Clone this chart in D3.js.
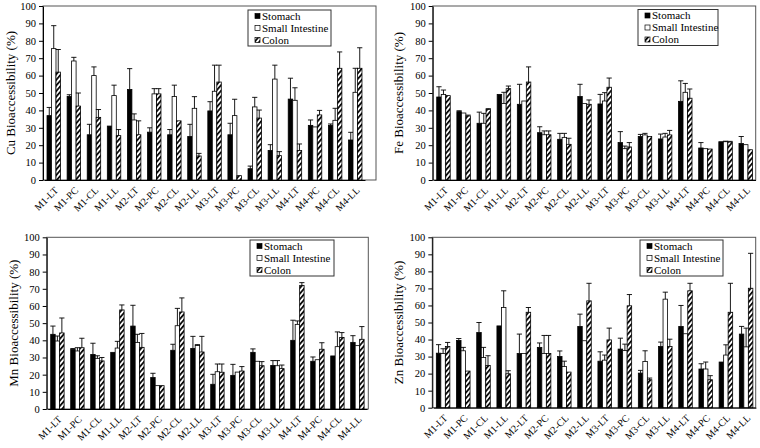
<!DOCTYPE html>
<html><head><meta charset="utf-8">
<script src="https://cdn.jsdelivr.net/npm/d3@7"></script>
<style>
body{margin:0;background:#fff}
svg{display:block}
</style>
</head><body>
<svg id="chart" width="760" height="448"></svg>
<script>
const categories = ["M1-LT","M1-PC","M1-CL","M1-LL","M2-LT","M2-PC","M2-CL","M2-LL","M3-LT","M3-PC","M3-CL","M3-LL","M4-LT","M4-PC","M4-CL","M4-LL"];
const seriesNames = ["Stomach","Small Intestine","Colon"];
const yTicks = [0,10,20,30,40,50,60,70,80,90,100];

// Cu
const cuStomach    = [37, 48, 26, 31, 52, 27.5, 26, 25, 39.7, 26, 6.5, 17, 46.5, 31.4, 31.4, 23];
const cuStomachSD  = [4.7, 1, 6, 0, 12, 2.5, 3, 7, 5.3, 6.6, 1.5, 3.3, 12, 3.1, 0.8, 4.4];
const cuSI         = [75.5, 68.4, 60, 48.5, 34.5, 49.5, 48, 41.2, 51, 37, 42, 58, 45.8, 30.5, 34.3, 50.4];
const cuSISD       = [13.2, 2.1, 5, 6, 3.5, 3, 6.5, 6.7, 15, 9.4, 5.5, 8, 7.2, 0, 6.9, 13.8];
const cuColon      = [62, 42.5, 36, 25.5, 26, 49.5, 34, 13.8, 56.3, 2.5, 35.6, 14, 17, 37.4, 64.2, 64.2];
const cuColonSD    = [13, 7.5, 4.5, 3.5, 8, 3, 0, 1.5, 9.7, 0, 4.6, 2.3, 3.7, 2.6, 9.4, 11.8];
// Fe
const feStomach    = [47.7, 39.3, 32.6, 49.2, 43.5, 27.2, 23.4, 48, 43.7, 21.5, 25, 23.6, 45.2, 18.4, 22, 21];
const feStomachSD  = [5.9, 0.5, 6.4, 0, 11.5, 3.4, 3.4, 7, 5.5, 6.3, 1.2, 2.8, 11.8, 3.1, 0, 4];
const feSI         = [49.2, 38.5, 32.6, 44, 45.4, 26, 24.5, 43.9, 45.4, 18, 25.9, 24.7, 50.4, 18, 22, 20.3];
const feSISD       = [2.5, 0, 5.7, 6.4, 0, 2.2, 2.3, 0, 4.8, 1.5, 0.9, 2.1, 5.1, 0, 0.3, 0];
const feColon      = [48.5, 36.8, 40.6, 52.5, 56.3, 26, 20.5, 43.5, 53.3, 19, 25, 25.9, 47, 17.8, 21.8, 17.4];
const feColonSD    = [0, 0.5, 0.4, 1.5, 8.7, 2.2, 3.5, 2.5, 5.3, 2.5, 0, 2.6, 5.3, 0, 0.4, 0];
// Mn
const mnStomach    = [43.5, 34.8, 31.8, 33, 48.3, 18.3, 34.2, 35.3, 14.4, 19.6, 33, 25.4, 40, 27.8, 30.9, 38.8];
const mnStomachSD  = [4.8, 0.4, 6.5, 0, 12.1, 2.5, 3.5, 7, 5.8, 6.4, 2, 2.8, 11.7, 2.5, 0, 3.9];
const mnSI         = [39.6, 33.8, 29.5, 35.5, 38.8, 13.6, 48.5, 37, 21.7, 21.5, 27.8, 25.2, 49.3, 28.7, 36.3, 36.9];
const mnSISD       = [2.9, 1.9, 1.5, 3.9, 4.7, 0, 10.1, 0.5, 4.5, 0, 0, 3, 2, 0, 8.6, 0];
const mnColon      = [44.3, 35.7, 28, 57.7, 35.9, 13.6, 56.5, 33.2, 21.4, 22.1, 25.2, 23.5, 72, 34.8, 41.7, 40.6];
const mnColonSD    = [8.7, 5.5, 2, 2.9, 8.1, 0, 8.2, 9.1, 4.8, 2.6, 2.4, 2.1, 1.6, 3.8, 2.8, 7.4];
// Zn
const znStomach    = [32, 39.5, 44.1, 48, 31.8, 35.4, 30, 47.7, 27.3, 34.4, 20.3, 35.9, 47.7, 22.7, 26.8, 43.2];
const znStomachSD  = [5, 1.1, 5.9, 0, 11.4, 2.6, 3.3, 7.2, 5.5, 6.4, 1.6, 2.6, 12.3, 3.1, 0, 4.5];
const znSI         = [31.8, 33.4, 29.5, 58.8, 31.8, 31.8, 24.2, 39.3, 27.9, 33.5, 27.1, 63.7, 43.4, 22.7, 30.9, 35.7];
const znSISD       = [2.8, 2, 5.9, 9.8, 0, 10.6, 3.1, 0, 3, 3.8, 6.3, 4.1, 0, 4.1, 6, 11];
const znColon      = [35.9, 21.5, 24.8, 19.9, 56, 31.8, 20.9, 62.7, 39.8, 59.8, 16.4, 35.9, 68.6, 16.4, 56, 70.1];
const znColonSD    = [2.4, 0, 5.7, 1.8, 2.8, 10.6, 0, 10.3, 6.9, 6.6, 1, 4.3, 4.4, 2.4, 17, 20.5];

const panelTitles = ["Cu Bioaccessibility (%)","Fe Bioaccessibility (%)","Mn Bioaccessibility (%)","Zn Bioaccessibility (%)"];
const panelData = [
  [[cuStomach,cuStomachSD],[cuSI,cuSISD],[cuColon,cuColonSD]],
  [[feStomach,feStomachSD],[feSI,feSISD],[feColon,feColonSD]],
  [[mnStomach,mnStomachSD],[mnSI,mnSISD],[mnColon,mnColonSD]],
  [[znStomach,znStomachSD],[znSI,znSISD],[znColon,znColonSD]]
];

// layout (positions only)
const layout = [
  {ax:43,   right:376,   top:6,     bottom:180,   step:20.1, titleX:10,  lx:248, ly:10, lw:83},
  {ax:432.7,right:755.7, top:6,     bottom:180,   step:20.15,titleX:398, lx:638, ly:9.5, lw:80},
  {ax:46.7, right:368.3, top:237.3, bottom:409,   step:20.0, titleX:13,  lx:250, ly:240, lw:84},
  {ax:432.3,right:755.7, top:237.3, bottom:407.7, step:20.2, titleX:398, lx:640, ly:240, lw:83}
];

const FONT = "'Liberation Serif', 'Times New Roman', 'DejaVu Serif', serif";
const svg = d3.select("#chart");
const defs = svg.append("defs");
const pat = defs.append("pattern").attr("id","hatch").attr("patternUnits","userSpaceOnUse")
  .attr("width",3.6).attr("height",3.6).attr("patternTransform","rotate(40)");
pat.append("rect").attr("width",3.6).attr("height",3.6).attr("fill","#fff");
pat.append("rect").attr("x",0).attr("y",0).attr("width",1.7).attr("height",3.6).attr("fill","#000");

const fills = ["#000","#fff","url(#hatch)"];

panelData.forEach((series,pi)=>{
  const L = layout[pi];
  const g = svg.append("g");
  const y = d3.scaleLinear().domain([0,100]).range([L.bottom,L.top]);
  const pIn = 0.33, pOut = 0.15;
  const x0 = L.ax + 1;
  const x = d3.scaleBand().domain(categories)
    .range([x0, x0 + L.step*(categories.length - pIn + 2*pOut)])
    .paddingInner(pIn).paddingOuter(pOut);
  const xs = d3.scaleBand().domain([0,1,2]).range([0,x.bandwidth()]);

  // frame
  g.append("rect").attr("x",L.ax).attr("y",L.top).attr("width",L.right-L.ax).attr("height",L.bottom-L.top)
    .attr("fill","none").attr("stroke","#555").attr("stroke-width",1);

  // bars
  series.forEach((s,si)=>{
    const vals = s[0], sds = s[1];
    const data = categories.map((c,i)=>({c, v:vals[i], e:sds[i]}));
    g.selectAll(null).data(data).enter().append("rect")
      .attr("x",d=>x(d.c)+xs(si)).attr("y",d=>y(d.v))
      .attr("width",xs.bandwidth()).attr("height",d=>y(0)-y(d.v))
      .attr("fill",fills[si]).attr("stroke","#000").attr("stroke-width",0.8);
    const eg = g.selectAll(null).data(data.filter(d=>d.e>0)).enter().append("g");
    eg.append("line")
      .attr("x1",d=>x(d.c)+xs(si)+xs.bandwidth()/2).attr("x2",d=>x(d.c)+xs(si)+xs.bandwidth()/2)
      .attr("y1",d=>y(d.v)).attr("y2",d=>y(d.v+d.e)).attr("stroke","#000").attr("stroke-width",0.9);
    eg.append("line")
      .attr("x1",d=>x(d.c)+xs(si)+xs.bandwidth()/2-2.6).attr("x2",d=>x(d.c)+xs(si)+xs.bandwidth()/2+2.6)
      .attr("y1",d=>y(d.v+d.e)).attr("y2",d=>y(d.v+d.e)).attr("stroke","#000").attr("stroke-width",0.9);
  });

  // y axis
  const ya = g.append("g").attr("transform",`translate(${L.ax},0)`)
    .call(d3.axisLeft(y).tickValues(yTicks).tickSize(4).tickPadding(3).tickSizeOuter(0));
  ya.attr("font-family",null).attr("font-size",null);
  ya.select(".domain").attr("stroke","#000");
  ya.selectAll(".tick line").attr("stroke","#000");
  ya.selectAll("text").style("font-size","10.5px").style("font-family",FONT).attr("fill","#000");

  // x axis
  const xa = g.append("g").attr("transform",`translate(0,${L.bottom})`)
    .call(d3.axisBottom(x).tickSize(0).tickSizeOuter(0).tickPadding(0));
  xa.attr("font-family",null).attr("font-size",null);
  xa.select(".domain").attr("stroke","#000");
  xa.selectAll("text")
    .style("font-size","10px").style("font-family",FONT).attr("fill","#000")
    .attr("text-anchor","end").attr("dy",null).attr("y",0)
    .attr("transform","translate(5,11) rotate(-45)");

  // y title
  g.append("text").attr("transform",`translate(${L.titleX},${(L.top+L.bottom)/2}) rotate(-90)`)
    .attr("text-anchor","middle").attr("dy","0.35em")
    .style("font-size","13px").style("font-family",FONT).text(panelTitles[pi]);

  // legend
  const lg = g.append("g").attr("transform",`translate(${L.lx},${L.ly})`);
  lg.append("rect").attr("width",L.lw).attr("height",36)
    .attr("fill","#fff").attr("stroke","#333").attr("stroke-width",1);
  seriesNames.forEach((n,i)=>{
    const row = lg.append("g").attr("transform",`translate(7,${6+i*12})`);
    row.append("rect").attr("x",0).attr("y",-2.5).attr("width",5).attr("height",5)
      .attr("fill",fills[i]).attr("stroke","#000").attr("stroke-width",0.7);
    row.append("text").attr("x",7).attr("y",0).attr("dy","0.35em")
      .style("font-size","11px").style("font-family",FONT).text(n);
  });
});
</script>
</body></html>
